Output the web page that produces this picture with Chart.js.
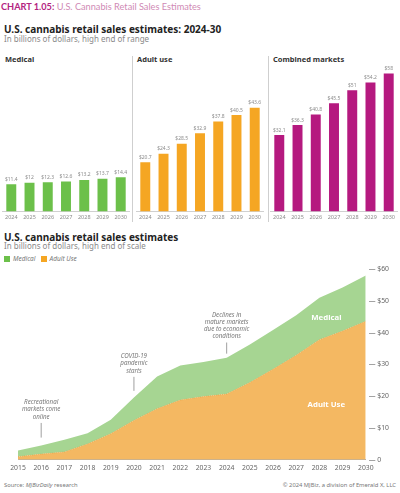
<!DOCTYPE html>
<html>
<head>
<meta charset="utf-8">
<script src="https://cdn.jsdelivr.net/npm/chart.js@4"></script>
<style>
  body { margin: 0; width: 400px; height: 493px; background: #fff; position: relative; overflow: hidden; font-family: "Noto Sans", sans-serif; }
  .txt { position: absolute; white-space: nowrap; line-height: 1; }
  #chartTitle { left: 1px; top: 2px; font-family: Lato, sans-serif; font-size: 9.2px; color: #d08ab5; }
  #chartTitle b { color: #b3247f; }
  .head { font-weight: bold; font-size: 10px; color: #222; }
  .sub { font-size: 8px; color: #8a8a8a; }
  .panel { font-weight: bold; font-size: 7.5px; color: #333; }
  .sep { position: absolute; width: 1px; background: #cfcfcf; top: 56px; height: 166px; }
  canvas { position: absolute; }
  .leg { font-size: 6.5px; font-style: italic; color: #777; }
  .sw { display: inline-block; width: 6px; height: 6px; vertical-align: -1px; margin-right: 3px; }
  .foot { font-size: 5.8px; color: #777; }
</style>
</head>
<body>
<div class="txt" id="chartTitle"><b>CHART 1.05:</b> U.S. Cannabis Retail Sales Estimates</div>
<div class="txt head" style="left:4px;top:24px">U.S. cannabis retail sales estimates: 2024-30</div>
<div class="txt sub" style="left:4px;top:35px">In billions of dollars, high end of range</div>

<div class="txt panel" style="left:5px;top:56px">Medical</div>
<div class="txt panel" style="left:137px;top:56px">Adult use</div>
<div class="txt panel" style="left:273px;top:56px">Combined markets</div>
<div class="sep" style="left:132px"></div>
<div class="sep" style="left:268px"></div>

<canvas id="medChart" style="left:2px;top:64px" width="128" height="160"></canvas>
<canvas id="adultChart" style="left:136px;top:64px" width="128" height="160"></canvas>
<canvas id="combChart" style="left:270px;top:64px" width="128" height="160"></canvas>

<div class="txt head" style="left:4px;top:232px">U.S. cannabis retail sales estimates</div>
<div class="txt sub" style="left:4px;top:242px">In billions of dollars, high end of scale</div>
<div class="txt leg" style="left:4px;top:256px"><span class="sw" style="background:#6cc04a"></span>Medical &nbsp;&nbsp;<span class="sw" style="background:#f5a623"></span>Adult Use</div>

<canvas id="areaChart" style="left:0;top:262px" width="400" height="214"></canvas>

<div class="txt foot" style="left:4px;top:483px">Source: <i>MJBizDaily</i> research</div>
<div class="txt foot" style="right:4px;top:483px">© 2024 MJBiz, a division of Emerald X, LLC</div>

<script>
// Top panels: 2024-30 estimates
const barYears = ["2024", "2025", "2026", "2027", "2028", "2029", "2030"];
const medicalValues = [11.4, 12, 12.3, 12.6, 13.2, 13.7, 14.4];
const adultValues = [20.7, 24.3, 28.5, 32.9, 37.8, 40.5, 43.6];
const combinedValues = [32.1, 36.3, 40.8, 45.5, 51, 54.2, 58];

// Bottom area chart: 2015-30
const areaYears = ["2015", "2016", "2017", "2018", "2019", "2020", "2021", "2022",
  "2023", "2024", "2025", "2026", "2027", "2028", "2029", "2030"];
const areaAdult = [1.0, 1.8, 2.5, 5.0, 8.2, 12.4, 16.1, 18.8, 19.9, 20.7, 24.3, 28.5, 32.9, 37.8, 40.5, 43.6];
const areaMedical = [1.9, 2.7, 3.8, 3.4, 4.4, 7.2, 10.1, 10.9, 10.9, 11.4, 12, 12.3, 12.6, 13.2, 13.7, 14.4];
const yTicks = [0, 10, 20, 30, 40, 50, 60];

const gray = "#8c8c8c";

// value labels above bars
const barLabels = {
  id: "barLabels",
  afterDatasetsDraw(chart) {
    const ctx = chart.ctx;
    const meta = chart.getDatasetMeta(0);
    const data = chart.data.datasets[0].data;
    ctx.save();
    ctx.font = "5px 'Noto Sans'";
    ctx.fillStyle = gray;
    ctx.textAlign = "center";
    ctx.textBaseline = "bottom";
    meta.data.forEach((bar, i) => {
      ctx.fillText("$" + data[i], bar.x, bar.y - 2.5);
    });
    ctx.restore();
  }
};

function makeBars(id, values, color) {
  return new Chart(document.getElementById(id), {
    type: "bar",
    data: {
      labels: barYears,
      datasets: [{ data: values, backgroundColor: color, barPercentage: 0.78, categoryPercentage: 0.7 }]
    },
    options: {
      responsive: false,
      animation: false,
      layout: { padding: 0 },
      plugins: { legend: { display: false }, tooltip: { enabled: false } },
      scales: {
        x: {
          grid: { display: false, drawTicks: false },
          border: { display: true, color: "#d0d0d0", width: 1 },
          ticks: { color: gray, font: { size: 5.5, family: "Noto Sans" }, padding: 3, maxRotation: 0 }
        },
        y: { display: false, min: 0, max: 62 }
      }
    },
    plugins: [barLabels]
  });
}

makeBars("medChart", medicalValues, "#6cc04a");
makeBars("adultChart", adultValues, "#f5a623");
makeBars("combChart", combinedValues, "#b5197f");

// notes and area labels on the area chart
const areaNotes = {
  id: "areaNotes",
  afterDatasetsDraw(chart) {
    const ctx = chart.ctx;
    const xs = chart.scales.x, ys = chart.scales.y;
    const notes = [
      { i: 1, lines: ["Recreational", "markets come", "online"], top: 11.6, bottom: 7.0 },
      { i: 5, lines: ["COVID-19", "pandemic", "starts"], top: 26.1, bottom: 21.7 },
      { i: 9, lines: ["Declines in", "mature markets", "due to economic", "conditions"], top: 36.9, bottom: 33.4 }
    ];
    ctx.save();
    ctx.font = "italic 6.2px 'Noto Sans'";
    ctx.fillStyle = "#777";
    ctx.strokeStyle = "#888";
    ctx.lineWidth = 0.8;
    ctx.textAlign = "center";
    ctx.textBaseline = "bottom";
    notes.forEach(n => {
      const x = xs.getPixelForValue(n.i);
      const yTop = ys.getPixelForValue(n.top);
      const yBot = ys.getPixelForValue(n.bottom);
      ctx.beginPath();
      ctx.moveTo(x, yTop);
      ctx.lineTo(x, yBot);
      ctx.stroke();
      const lh = 7.2;
      n.lines.forEach((l, k) => {
        ctx.fillText(l, x, yTop - 3 - (n.lines.length - 1 - k) * lh);
      });
    });
    ctx.font = "bold 7.8px 'Noto Sans'";
    ctx.fillStyle = "#fff";
    ctx.textBaseline = "middle";
    ctx.fillText("Medical", xs.getPixelForValue(13.3), ys.getPixelForValue(44.6));
    ctx.fillText("Adult Use", xs.getPixelForValue(13.3), ys.getPixelForValue(17.2));
    ctx.restore();
  }
};

new Chart(document.getElementById("areaChart"), {
  type: "line",
  data: {
    labels: areaYears,
    datasets: [
      {
        label: "Adult Use",
        data: areaAdult,
        fill: "origin",
        backgroundColor: "#f4b862",
        borderColor: "#e59a3a",
        borderWidth: 0.6,
        borderDash: [1, 1],
        pointRadius: 0,
        tension: 0
      },
      {
        label: "Medical",
        data: areaMedical,
        fill: "-1",
        backgroundColor: "#a6d592",
        borderWidth: 0,
        pointRadius: 0,
        tension: 0
      }
    ]
  },
  options: {
    responsive: false,
    animation: false,
    layout: { padding: { left: 18, right: 8, top: 4, bottom: 0 } },
    plugins: { legend: { display: false }, tooltip: { enabled: false } },
    scales: {
      x: {
        grid: { display: false, drawTicks: false },
        border: { display: true, color: "#999", width: 0.8 },
        ticks: { color: "#666", font: { size: 6.8, family: "Noto Sans" }, padding: 4, maxRotation: 0, autoSkip: false }
      },
      y: {
        position: "right",
        stacked: true,
        min: 0,
        max: 60,
        afterBuildTicks: axis => { axis.ticks = yTicks.map(v => ({ value: v })); },
        grid: { display: false, drawTicks: false },
        border: { display: false },
        ticks: {
          color: "#666",
          font: { size: 6.8, family: "Noto Sans" },
          padding: 3,
          callback: v => v === 0 ? "— 0" : "— $" + v
        }
      }
    }
  },
  plugins: [areaNotes]
});
</script>
</body>
</html>
